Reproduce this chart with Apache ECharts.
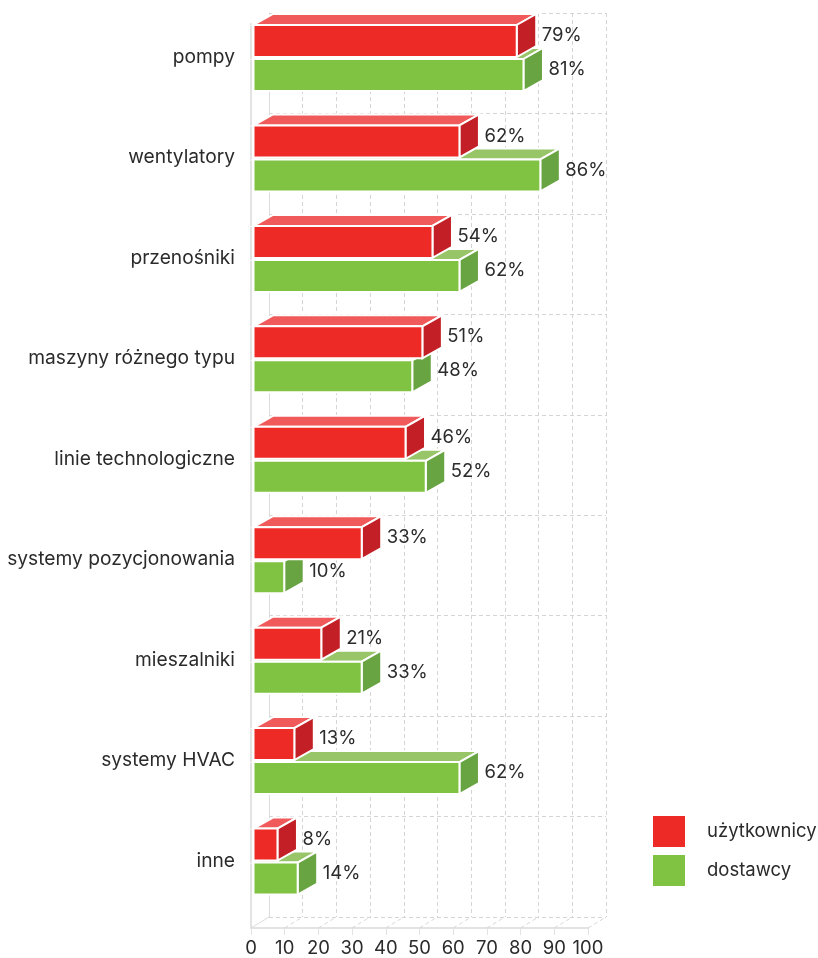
<!DOCTYPE html>
<html><head><meta charset="utf-8">
<style>html,body{margin:0;padding:0;background:#fff}#c{width:818px;height:958px}</style>
<script src="https://cdn.jsdelivr.net/npm/echarts@6/dist/echarts.min.js"></script>
</head><body><div id="c"></div>
<script>
const categories = ['pompy','wentylatory','przenośniki','maszyny różnego typu','linie technologiczne','systemy pozycjonowania','mieszalniki','systemy HVAC','inne'];
const uzytkownicy = [79,62,54,51,46,33,21,13,8];
const dostawcy = [81,86,62,48,52,10,33,62,14];
const ticks = [0,10,20,30,40,50,60,70,80,90,100];
const FONT = 'Inter';
const TXT = '#2b2b2b';
const DX = 19.5, DY = 11;
const chart = echarts.init(document.getElementById('c'));

function barRenderer(offset, front, top, side) {
  return function (params, api) {
    const v = api.value(0), idx = api.value(1);
    const c0 = api.coord([0, idx]);
    const c1 = api.coord([v, idx]);
    const band = api.size([0, 1])[1];
    const y0 = c0[1] - band / 2 + offset, y1 = y0 + 32;
    const x0 = c0[0] + 2.5, x1 = c1[0] - 0.5;
    const st = {stroke: '#fff', lineWidth: 2};
    return {type: 'group', children: [
      {type: 'polygon', shape: {points: [[x0, y0], [x0 + DX, y0 - DY], [x1 + DX, y0 - DY], [x1, y0]]}, style: {fill: top, ...st}},
      {type: 'polygon', shape: {points: [[x1, y0], [x1 + DX, y0 - DY], [x1 + DX, y1 - DY], [x1, y1]]}, style: {fill: side, ...st}},
      {type: 'rect', shape: {x: x0, y: y0, width: x1 - x0, height: y1 - y0}, style: {fill: front, ...st}},
      {type: 'text', x: x1 + DX + 5.5, y: y0 + 10.5, style: {text: v + '%', fill: TXT, font: '18.5px ' + FONT, textAlign: 'left', textVerticalAlign: 'middle'}}
    ]};
  };
}
function floorRenderer(params, api) {
  const v = api.value(0);
  const c = api.coord([v, categories.length - 1]);
  const band = api.size([0, 1])[1];
  const y = c[1] + band / 2;
  return {type: 'line', shape: {x1: c[0], y1: y, x2: c[0] + 18, y2: y - DY},
    style: {stroke: v === 0 ? '#dcdcdc' : '#d8d8d8', lineWidth: 1, lineDash: v === 0 ? null : [4, 3]}};
}
const dashed = {show: true, lineStyle: {color: '#d4d4d4', type: [4, 3], width: 1}};
chart.setOption({
  animation: false,
  backgroundColor: '#fff',
  textStyle: {fontFamily: FONT},
  legend: {
    data: ['użytkownicy', 'dostawcy'], left: 653, top: 816, orient: 'vertical', padding: 0,
    itemWidth: 32, itemHeight: 31, itemGap: 8, icon: 'rect',
    textStyle: {fontSize: 18.5, color: TXT, fontFamily: FONT, padding: [4, 0, 0, 17]}
  },
  grid: [
    {left: 251, top: 24, width: 337, height: 904, outerBoundsMode: 'none'},
    {left: 269, top: 13, width: 337, height: 904, outerBoundsMode: 'none'}
  ],
  xAxis: [
    {type: 'value', gridIndex: 0, min: 0, max: 100, interval: 10,
      axisLine: {show: true, lineStyle: {color: '#e3e3e3', width: 2}},
      axisTick: {show: true, length: 7, lineStyle: {color: '#e3e3e3', width: 1}},
      axisLabel: {fontSize: 18.5, color: TXT, margin: 11, fontFamily: FONT, showMaxLabel: true, showMinLabel: true},
      splitLine: {show: false}},
    {type: 'value', gridIndex: 1, min: 0, max: 100, interval: 10,
      axisLine: {show: false}, axisTick: {show: false}, axisLabel: {show: false}, splitLine: dashed}
  ],
  yAxis: [
    {type: 'category', gridIndex: 0, data: categories, inverse: true,
      axisLine: {show: true, lineStyle: {color: '#e3e3e3', width: 2}},
      axisTick: {show: false},
      axisLabel: {fontSize: 19.2, color: TXT, margin: 16, fontFamily: FONT, verticalAlign: 'bottom', lineHeight: 34},
      splitLine: {show: false}},
    {type: 'category', gridIndex: 1, data: categories, inverse: true,
      axisLine: {show: true, lineStyle: {color: '#dcdcdc', width: 1}},
      axisTick: {show: false}, axisLabel: {show: false}, splitLine: dashed}
  ],
  series: [
    {name: 'floor', type: 'custom', xAxisIndex: 0, yAxisIndex: 0, z: 1, silent: true, clip: false,
      renderItem: floorRenderer, encode: {x: 0}, data: ticks.map(t => [t])},
    {name: 'dostawcy', type: 'custom', xAxisIndex: 0, yAxisIndex: 0, z: 3, clip: false,
      itemStyle: {color: '#80c342'},
      renderItem: barRenderer(35, '#80c342', '#97c568', '#68a441'),
      encode: {x: 0, y: 1}, data: dostawcy.map((v, i) => [v, i])},
    {name: 'użytkownicy', type: 'custom', xAxisIndex: 0, yAxisIndex: 0, z: 4, clip: false,
      itemStyle: {color: '#ee2a27'},
      renderItem: barRenderer(1, '#ee2a27', '#f05a5a', '#c22026'),
      encode: {x: 0, y: 1}, data: uzytkownicy.map((v, i) => [v, i])}
  ]
});
</script></body></html>
